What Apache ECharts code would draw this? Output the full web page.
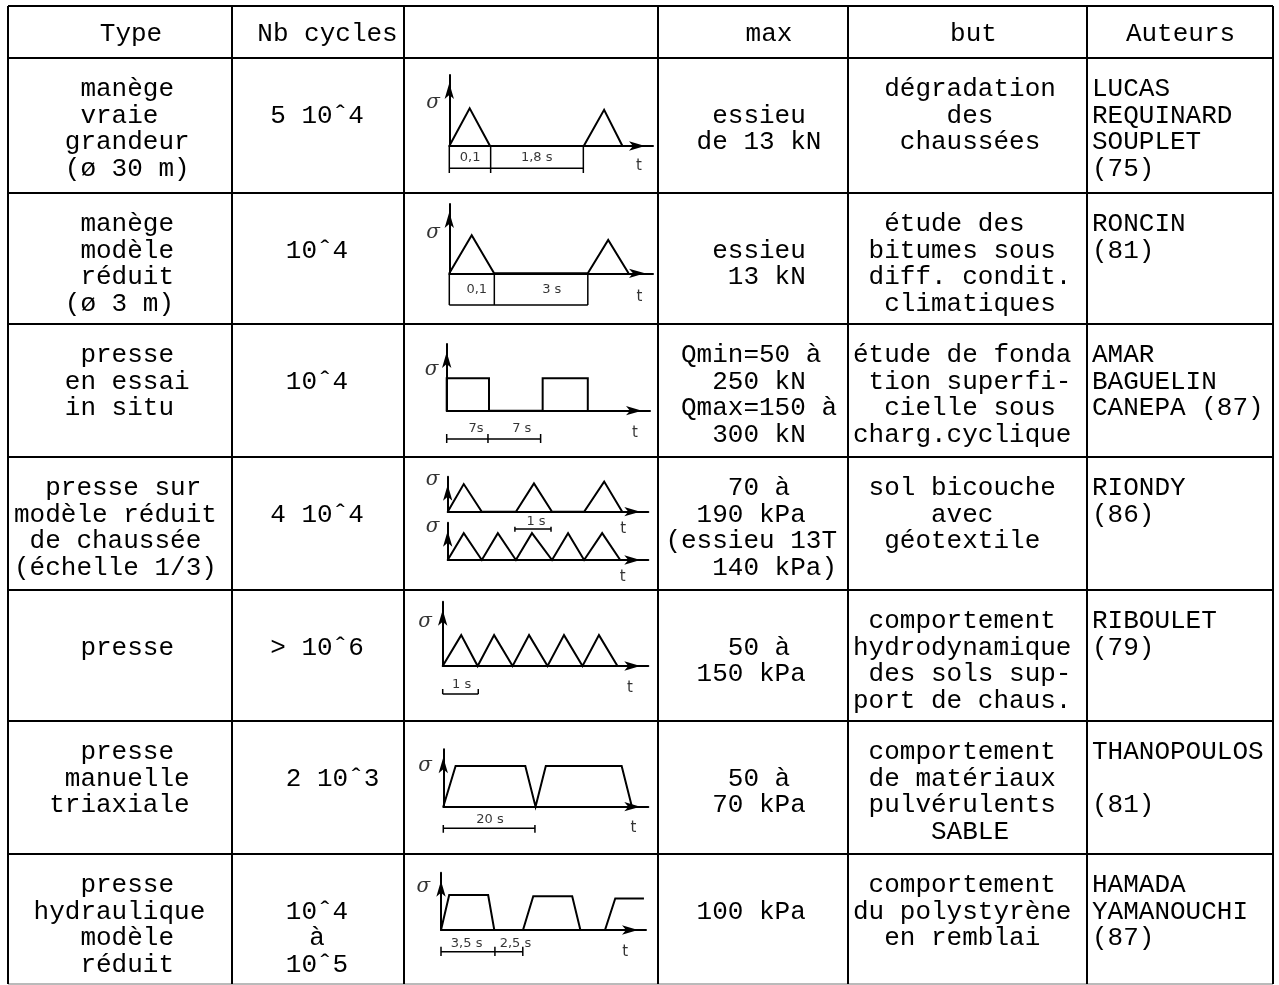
<!DOCTYPE html>
<html><head><meta charset="utf-8">
<script src="https://cdn.jsdelivr.net/npm/echarts@6.0.0/dist/echarts.min.js"></script>
<style>html,body{margin:0;padding:0;background:#fff}#c{width:1279px;height:985px}</style>
</head><body><div id="c"></div>
<script>
// ---------------- DATA ----------------
const headers = ['Type', 'Nb cycles', '', 'max', 'but', 'Auteurs'];
const typeText = [
  ['    manège', '    vraie', '   grandeur', '   (ø 30 m)'],
  ['    manège', '    modèle', '    réduit', '   (ø 3 m)'],
  ['    presse', '   en essai', '   in situ'],
  ['  presse sur', 'modèle réduit', ' de chaussée', '(échelle 1/3)'],
  ['', '    presse'],
  ['    presse', '   manuelle', '  triaxiale'],
  ['    presse', ' hydraulique', '    modèle', '    réduit']
];
const cycleText = [
  ['', '5 10ˆ4'], ['', '10ˆ4'], ['', '10ˆ4'], ['', '4 10ˆ4'],
  ['', '> 10ˆ6'], ['', '  2 10ˆ3'], ['', '10ˆ4', 'à', '10ˆ5']
];
const maxText = [
  ['', 'essieu', 'de 13 kN'],
  ['', 'essieu', ' 13 kN'],
  ['Qmin=50 à ', '250 kN', 'Qmax=150 à', '300 kN'],
  ['70 à', '190 kPa ', '(essieu 13T ', '  140 kPa)'],
  ['', '50 à', '150 kPa '],
  ['', '50 à', '70 kPa'],
  ['', '100 kPa ']
];
const butText = [
  ['  dégradation', '      des', '   chaussées'],
  ['  étude des', ' bitumes sous', ' diff. condit.', '  climatiques'],
  ['étude de fonda', ' tion superfi-', '  cielle sous', 'charg.cyclique'],
  [' sol bicouche', '     avec', '  géotextile'],
  [' comportement', 'hydrodynamique', ' des sols sup-', 'port de chaus.'],
  [' comportement', ' de matériaux', ' pulvérulents', '     SABLE'],
  [' comportement', 'du polystyrène', '  en remblai']
];
const authorText = [
  ['LUCAS', 'REQUINARD', 'SOUPLET', '(75)'],
  ['RONCIN', '(81)'],
  ['AMAR', 'BAGUELIN', 'CANEPA (87)'],
  ['RIONDY', '(86)'],
  ['RIBOULET', '(79)'],
  ['THANOPOULOS', '', '(81)'],
  ['HAMADA', 'YAMANOUCHI', '(87)']
];

// waveforms (t, sigma) in diagram units: 100 = length of each axis
const wave1 = [[0,0],[10,53],[20,0],[66,0],[76,51],[85,0]];
const wave2 = [[0,0],[11,55],[22,0],[68,0],[78,48],[88,0]];
const wave3 = [[0,0],[0,48.6],[20.8,48.6],[20.8,0],[47.2,0],[47.2,48.6],[69.4,48.6],[69.4,0]];
const wave4a = [[0,0],[8,79],[17,0],[34,0],[43,81],[52,0],[68,0],[78,86],[87,0]];
const wave4b = [[0,0],[8,72],[17,0],[25,72],[34,0],[42,72],[52,0],[60,72],[68,0],[77,72],[86,0]];
const wave5 = [[0,0],[9,48],[17,0],[25,48],[34,0],[42,48],[51,0],[59,48],[68,0],[76,48],[85,0]];
const wave6 = [[0,0],[6,71],[40,71],[45,0],[50,71],[87,71],[92,0]];
const wave7 = [[0,0],[4,61],[23,61],[26,0],[40,0],[45,59],[64,59],[68,0],[80,0],[85,55],[99,55]];

// dimension brackets: segments [t1, s1, t2, s2]
const marks1 = [[0,0,0,-38],[20.3,0,20.3,-38],[65.8,0,65.8,-38],[0,-31.4,65.8,-31.4]];
const marks2 = [[0,0,0,-45.7],[22.1,0,22.1,-45.7],[68,0,68,-45.7],[0,-45.7,68,-45.7]];
const marks3 = [[0,-42.4,46.2,-42.4],[0,-35,0,-48.5],[20.3,-35,20.3,-48.5],[46.2,-35,46.2,-48.5]];
const marks4a = [[33.5,-49.4,51.5,-49.4],[33.5,-43,33.5,-57],[51.5,-43,51.5,-57]];
const marks4b = [];
const marks5 = [[0,-43.5,17.3,-43.5],[0,-35.8,0,-43.5],[17.3,-35.8,17.3,-43.5]];
const marks6 = [[0,-37.6,44.7,-37.6],[0,-31.9,0,-45.3],[44.7,-31.9,44.7,-45.3]];
const marks7 = [[0,-37.9,39.9,-37.9],[0,-29.1,0,-45.4],[26.3,-29.1,26.3,-45.4],[39.9,-29.1,39.9,-45.4]];

// annotations [t, sigma, text]
const notes1 = [[10.2,-16.5,'0,1'],[42.9,-16.5,'1,8 s'],[93.1,-28.2,'t'],[-8,61,'σ']];
const notes2 = [[13.5,-24.1,'0,1'],[50.3,-24.1,'3 s'],[93.3,-34.6,'t'],[-8,58,'σ']];
const notes3 = [[14.4,-27.4,'7s'],[36.9,-27.4,'7 s'],[92.6,-33.9,'t'],[-7.4,61,'σ']];
const notes4a = [[44,-29.4,'1 s'],[87.5,-49.4,'t'],[-7.5,90.6,'σ']];
const notes4b = [[87.2,-44.8,'t'],[-7.5,87.7,'σ']];
const notes5 = [[9.2,-28.5,'1 s'],[91.1,-34.7,'t'],[-8.6,68.9,'σ']];
const notes6 = [[22.8,-23.2,'20 s'],[92.7,-37.6,'t'],[-8.9,71.4,'σ']];
const notes7 = [[12.5,-23.2,'3,5 s'],[36.3,-23.2,'2,5 s'],[89.8,-37.9,'t'],[-8.6,75.6,'σ']];

// ---------------- LAYOUT ----------------
const colX = [8, 232, 404, 658, 848, 1087, 1273];
const rowY = [6, 58, 193, 324, 457, 590, 721, 854, 984];
const headerCX = [131, 327.5, null, 769, 973.5, 1180.5];
const typeX = [18, 18, 18, 14, 18, 18, 18];
const cycleCX = 317, maxCX = 759, butX = 853, authorX = 1092;
const LH = 26.7, FIRST = 17.8;
// diagram boxes: [origin x, origin y, t-arrow tip x, sigma-arrow tip y]
const diagramBoxes = [
  [449.3, 146, 653, 75],
  [449.3, 273.3, 653, 204],
  [446.7, 410.7, 650, 344],
  [447.7, 511.7, 648.3, 476.7],
  [447.7, 560, 648.3, 522.7],
  [442.7, 666, 648.3, 601.7],
  [443.3, 806.7, 648.3, 749.3],
  [441, 930, 646, 872.7]
];
const waves = [wave1, wave2, wave3, wave4a, wave4b, wave5, wave6, wave7];
const markSets = [marks1, marks2, marks3, marks4a, marks4b, marks5, marks6, marks7];
const noteSets = [notes1, notes2, notes3, notes4a, notes4b, notes5, notes6, notes7];

const MONO = '"Liberation Mono", "DejaVu Sans Mono", monospace';
const graphics = [];
function hline(y, x1, x2, w, c) { graphics.push({type:'line', silent:true, shape:{x1, y1:y, x2, y2:y}, style:{stroke:c||'#000', lineWidth:w||2}}); }
function vline(x, y1, y2, w, c) { graphics.push({type:'line', silent:true, shape:{x1:x, y1, x2:x, y2}, style:{stroke:c||'#000', lineWidth:w||2}}); }
rowY.forEach((y, i) => hline(y, colX[0], colX[colX.length-1], i === rowY.length-1 ? 1.2 : 2, i === rowY.length-1 ? '#777' : '#000'));
colX.forEach(x => vline(x, rowY[0], rowY[rowY.length-1]));

function txt(x, y, lines, align, va) {
  graphics.push({type:'text', silent:true, x: x, y: y, style:{
    text: lines.join('\n'), fontSize: 26, fontFamily: MONO, fill:'#000',
    align: align, verticalAlign: va || 'top', lineHeight: LH }});
}
headers.forEach((h, i) => { if (h) txt(headerCX[i], 34.5, [h], 'center', 'middle'); });
for (let r = 0; r < 7; r++) {
  const top = rowY[r+1] + FIRST;
  txt(typeX[r], top, typeText[r], 'left');
  txt(cycleCX, top, cycleText[r], 'center');
  txt(maxCX, top, maxText[r], 'center');
  txt(butX, top, butText[r], 'left');
  txt(authorX, top, authorText[r], 'left');
}

const grids = [], xAxes = [], yAxes = [], series = [];
const axisLineCfg = {show:true, onZero:true, symbol:['none','arrow'], symbolSize:[7,16], symbolOffset:[0,-8], lineStyle:{color:'#000', width:2}};
function noteLabel(t) {
  if (t === 'σ') return {fontFamily:'"DejaVu Serif", serif', fontStyle:'italic', fontSize:20};
  if (t === 't') return {fontFamily:'"DejaVu Sans", sans-serif', fontSize:15};
  return {fontFamily:'"DejaVu Sans", sans-serif', fontSize:13};
}
diagramBoxes.forEach(([ox, oy, xt, yt], i) => {
  grids.push({left: ox, top: yt, width: xt - ox, height: oy - yt, containLabel:false, outerBoundsMode:'none'});
  xAxes.push({type:'value', gridIndex:i, min:0, max:100, axisLine:axisLineCfg, axisTick:{show:false}, axisLabel:{show:false}, splitLine:{show:false}});
  yAxes.push({type:'value', gridIndex:i, min:0, max:100, axisLine:axisLineCfg, axisTick:{show:false}, axisLabel:{show:false}, splitLine:{show:false}});
  series.push({type:'line', xAxisIndex:i, yAxisIndex:i, data:waves[i], symbol:'none', clip:false, silent:true,
    lineStyle:{color:'#000', width:2, join:'miter'}, z:3});
  const seg = [];
  markSets[i].forEach(([a,b,c,d]) => { seg.push([a,b],[c,d],null); });
  if (seg.length) series.push({type:'line', xAxisIndex:i, yAxisIndex:i, data:seg, symbol:'none', clip:false, silent:true,
    connectNulls:false, lineStyle:{color:'#000', width:1.5}, z:3});
  series.push({type:'scatter', xAxisIndex:i, yAxisIndex:i, clip:false, silent:true, symbolSize:0,
    itemStyle:{color:'transparent'},
    data: noteSets[i].map(([x, y, t]) => ({value:[x, y], name:t, label: noteLabel(t)})),
    label:{show:true, position:'inside', color:'#000', formatter: p => p.name}, z:4});
});

const chart = echarts.init(document.getElementById('c'), null, {renderer:'canvas'});
chart.setOption({
  animation:false,
  backgroundColor:'#fff',
  grid: grids, xAxis: xAxes, yAxis: yAxes, series: series,
  graphic: graphics
});
</script></body></html>
